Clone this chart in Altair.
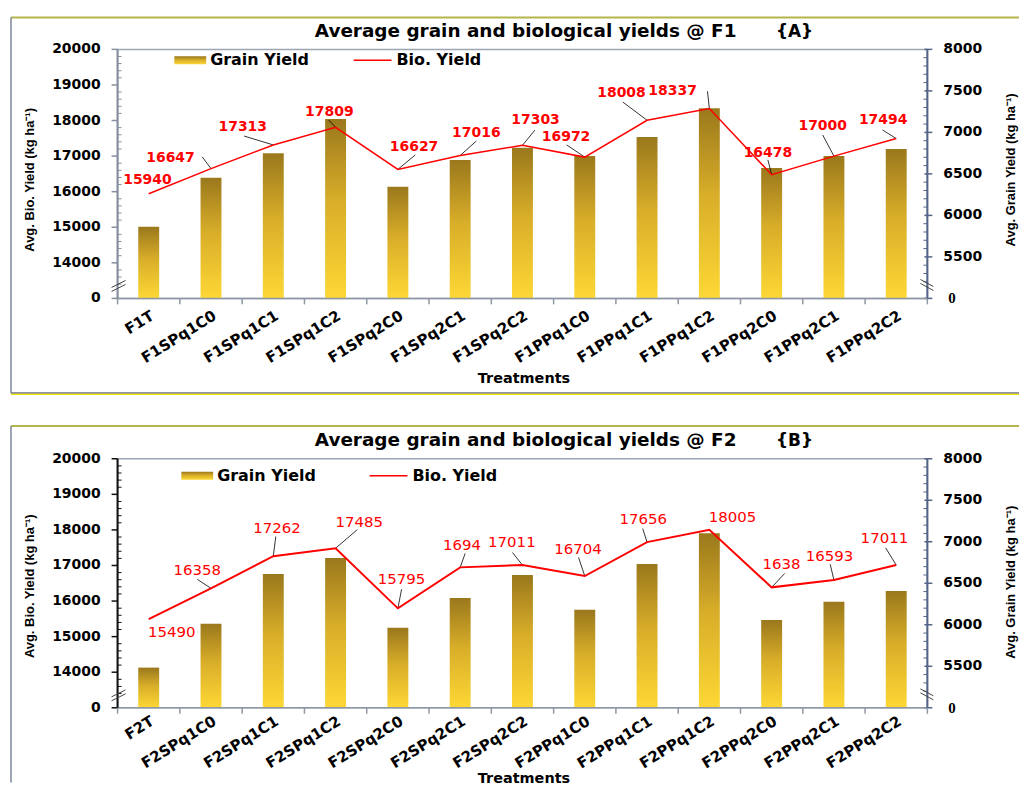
import altair as alt
import pandas as pd

# ---------------- data ----------------
treat_A = ["F1T", "F1SPq1C0", "F1SPq1C1", "F1SPq1C2", "F1SPq2C0", "F1SPq2C1", "F1SPq2C2",
           "F1PPq1C0", "F1PPq1C1", "F1PPq1C2", "F1PPq2C0", "F1PPq2C1", "F1PPq2C2"]
bio_A = [15940, 16647, 17313, 17809, 16627, 17016, 17303, 16972, 18008, 18337, 16478, 17000, 17494]
grain_A = [5864, 6452, 6748, 7160, 6344, 6668, 6816, 6716, 6944, 7292, 6572, 6716, 6800]
label_A = ["15940", "16647", "17313", "17809", "16627", "17016", "17303", "16972", "18008",
           "18337", "16478", "17000", "17494"]

treat_B = ["F2T", "F2SPq1C0", "F2SPq1C1", "F2SPq1C2", "F2SPq2C0", "F2SPq2C1", "F2SPq2C2",
           "F2PPq1C0", "F2PPq1C1", "F2PPq1C2", "F2PPq2C0", "F2PPq2C1", "F2PPq2C2"]
bio_B = [15490, 16358, 17262, 17485, 15795, 16947, 17011, 16704, 17656, 18005, 16385, 16593, 17011]
grain_B = [5484, 6012, 6612, 6804, 5964, 6324, 6600, 6180, 6732, 7104, 6056, 6276, 6408]
label_B = ["15490", "16358", "17262", "17485", "15795", "1694", "17011", "16704", "17656",
           "18005", "1638", "16593", "17011"]

# label placement (category units, kg units) relative to each point
lab_dx_A = [-0.02, -0.65, -0.49, -0.10, 0.26, 0.26, 0.21, -0.30, -0.41, -0.59, -0.06, -0.18, -0.21]
lab_dy_A = [392, 311, 504, 428, 630, 633, 717, 566, 773, 496, 619, 854, 512]
lead_dx_A = [0, -0.14, -0.47, -0.11, 0.28, 0.26, 0.20, -0.29, -0.39, -0.03, -0.06, -0.18, -0.22]
lead_dy_A = [0, 330, 252, 204, 406, 409, 428, 342, 512, 487, 414, 594, 241]

lab_dx_B = [0.37, -0.22, 0.06, 0.38, 0.06, 0.03, -0.17, -0.11, -0.06, 0.37, 0.16, -0.07, -0.19]
lab_dy_B = [-350, 504, 804, 748, 818, 636, 661, 756, 644, 347, 655, 683, 756]
lead_dx_B = [0, -0.22, 0.04, 0.35, 0.06, 0.08, -0.16, -0.10, -0.07, 0, 0.21, -0.06, -0.17]
lead_dy_B = [0, 252, 552, 524, 538, 392, 353, 524, 381, 0, 392, 440, 484]

left_ticks = [13000, 14000, 15000, 16000, 17000, 18000, 19000, 20000]
left_tick_labels = ["0", "14000", "15000", "16000", "17000", "18000", "19000", "20000"]
right_ticks = [5500, 6000, 6500, 7000, 7500, 8000]
right_tick_labels = ["5500", "6000", "6500", "7000", "7500", "8000"]
right_zero = [5000]
left_minor = [13400, 13600, 13800] + [k + m for k in range(14000, 20000, 1000) for m in (200, 400, 600, 800)]
right_minor = [v for v in range(5200, 8000, 100) if v % 500 != 0]

W, H = 813, 250
FONT = "DejaVu Sans"

GOLD = alt.Gradient(
    gradient="linear",
    stops=[alt.GradientStop(offset=0, color="#9a781c"),
           alt.GradientStop(offset=0.45, color="#d8ad29"),
           alt.GradientStop(offset=1, color="#fdd835")],
    x1=0, x2=0, y1=0, y2=1)

one = pd.DataFrame({"k": [0]})


def vtext(txt, x, y, size, weight="bold", font=FONT, color="black", angle=0,
          align="center", baseline="middle"):
    return alt.Chart(one).mark_text(
        text=txt, fontSize=size, fontWeight=weight, font=font, color=color,
        angle=angle, align=align, baseline=baseline
    ).encode(x=alt.value(x), y=alt.value(y))


def vrule(x1, y1, x2, y2, color, width):
    return alt.Chart(one).mark_rule(color=color, strokeWidth=width).encode(
        x=alt.value(x1), y=alt.value(y1), x2=alt.value(x2), y2=alt.value(y2))


def panel(treat, bio, grain, labels, ldx, ldy, edx, edy, tag, style):
    n = len(treat)
    idx = list(range(n))
    df = pd.DataFrame({
        "idx": idx, "treat": treat, "bio": bio, "grain": grain, "label": labels,
        "lx": [i + d for i, d in zip(idx, ldx)],
        "ly": [b + d for b, d in zip(bio, ldy)],
    })
    lead = pd.DataFrame({
        "idx": idx, "bio": bio,
        "ex": [i + d for i, d in zip(idx, edx)],
        "ey": [b + d for b, d in zip(bio, edy)],
        "len": [abs(a) + abs(b) for a, b in zip(edx, edy)],
    })
    lead = lead[lead["len"] > 0]

    xs = alt.Scale(domain=[-0.5, n - 0.5], nice=False, zero=False, padding=0)
    ysl = alt.Scale(domain=[13000, 20000], nice=False, zero=False, padding=0)
    ysr = alt.Scale(domain=[5000, 8000], nice=False, zero=False, padding=0)
    lcol, rcol, xcol = style["lcol"], "#55658a", "#8e97a4"

    # ----- right-scale group: bars + right axis -----
    bars = alt.Chart(df).mark_bar(size=21, fill=GOLD).encode(
        x=alt.X("idx:Q", scale=xs, axis=None),
        y=alt.Y("grain:Q", scale=ysr, axis=None),
        y2=alt.datum(5000),
        tooltip=["treat:N", "grain:Q"],
    )
    rtick_df = pd.DataFrame({"grain": right_ticks, "lab": right_tick_labels})
    rminor = alt.Chart(pd.DataFrame({"grain": right_minor})).mark_rule(
        color=rcol, strokeWidth=1).encode(
        y=alt.Y("grain:Q", scale=ysr, axis=None), x=alt.value(W - 4), x2=alt.value(W))
    rmajor = alt.Chart(pd.DataFrame({"grain": right_ticks + right_zero})).mark_rule(
        color=rcol, strokeWidth=1.5).encode(
        y=alt.Y("grain:Q", scale=ysr, axis=None), x=alt.value(W - 3), x2=alt.value(W + 5))
    rlabels = alt.Chart(rtick_df).mark_text(
        font=FONT, fontSize=14, fontWeight="bold", color="black", align="left", baseline="middle"
    ).encode(y=alt.Y("grain:Q", scale=ysr, axis=None), x=alt.value(W + 16), text="lab:N")
    rzero = alt.Chart(pd.DataFrame({"grain": right_zero, "lab": ["0"]})).mark_text(
        font="Liberation Serif", fontSize=15, fontWeight="bold", color="black", align="left",
        baseline="middle").encode(
        y=alt.Y("grain:Q", scale=ysr, axis=None), x=alt.value(W + 21), text="lab:N")
    child1 = alt.layer(bars, rminor, rmajor, rlabels, rzero)

    # ----- left-scale group: line, labels, left axis, decorations -----
    leaders = alt.Chart(lead).mark_rule(color="black", strokeWidth=0.8).encode(
        x=alt.X("idx:Q", scale=xs, axis=None), x2="ex:Q",
        y=alt.Y("bio:Q", scale=ysl, axis=None), y2="ey:Q")
    line = alt.Chart(df).mark_line(color="#ff0000", strokeWidth=style["lw"]).encode(
        x=alt.X("idx:Q", scale=xs, axis=None),
        y=alt.Y("bio:Q", scale=ysl, axis=None))
    texts = alt.Chart(df).mark_text(
        font=FONT, fontSize=style["lsize"], fontWeight=style["lweight"], color="#ff0000",
        baseline="middle", align="center").encode(
        x=alt.X("lx:Q", scale=xs, axis=None),
        y=alt.Y("ly:Q", scale=ysl, axis=None),
        text="label:N")
    lminor = alt.Chart(pd.DataFrame({"bio": left_minor})).mark_rule(
        color=lcol, strokeWidth=1).encode(
        y=alt.Y("bio:Q", scale=ysl, axis=None), x=alt.value(0), x2=alt.value(4))
    lmajor = alt.Chart(pd.DataFrame({"bio": left_ticks})).mark_rule(
        color=lcol, strokeWidth=1.5).encode(
        y=alt.Y("bio:Q", scale=ysl, axis=None), x=alt.value(-6), x2=alt.value(0))
    llabels = alt.Chart(pd.DataFrame({"bio": left_ticks, "lab": left_tick_labels})).mark_text(
        font=FONT, fontSize=14, fontWeight="bold", color="black", align="right", baseline="middle"
    ).encode(y=alt.Y("bio:Q", scale=ysl, axis=None), x=alt.value(-17), text="lab:N")
    bounds = alt.Chart(pd.DataFrame({"b": [i - 0.5 for i in range(n + 1)]})).mark_rule(
        color=xcol, strokeWidth=1.5).encode(
        x=alt.X("b:Q", scale=xs, axis=None), y=alt.value(H), y2=alt.value(H + 6))
    xlabels = alt.Chart(df).mark_text(
        font=FONT, fontSize=15, fontWeight="bold", color="black", align="right",
        baseline="top", angle=328).encode(
        x=alt.X("idx:Q", scale=xs, axis=None), y=alt.value(H + style["xly"]), text="treat:N")

    lg = style["leg"]
    deco = [
        # axis lines
        vrule(0, H, W, H, xcol, 1.5),
        vrule(0, 0, 0, H, lcol, 2),
        vrule(W, 0, W, H, rcol, 2),
        # title
        vtext(style["title"], 198, style["ty"], 18.5, align="left", baseline="alphabetic"),
        vtext(tag, 661, style["ty"], 17, align="left", baseline="alphabetic"),
        # legend
        alt.Chart(one).mark_rect(fill=GOLD).encode(
            x=alt.value(lg[0]), x2=alt.value(lg[0] + 32), y=alt.value(lg[1] - 4), y2=alt.value(lg[1] + 4)),
        vtext("Grain Yield", lg[0] + 36, lg[1], 16, align="left"),
        vrule(lg[2], lg[1], lg[2] + 38, lg[1], "#ff0000", 1.5),
        vtext("Bio. Yield", lg[2] + 43, lg[1], 16, align="left"),
        # axis titles
        vtext("Avg. Bio. Yield (kg ha\u207b\u00b9)", -88, style["lty"], 13, font="Liberation Sans",
              angle=270),
        vtext("Avg. Grain Yield  (kg ha\u207b\u00b9)", 897, style["rty"], 13, font="Liberation Sans",
              angle=270),
        vtext("Treatments", 408, style["xty"], 14.5),
        # axis break marks
        vrule(-6, 243, 8, 236, "#444444", 1),
        vrule(-6, 239, 8, 232, "#444444", 1),
        vrule(W - 7, 231, W + 6, 238, "#444444", 1),
        vrule(W - 7, 235, W + 6, 242, "#444444", 1),
        # frame of the panel
        vrule(-107, style["top"], 905, style["top"], "#b3b54a", 2),
        vrule(-107, style["top"], -107, style["bottom"], "#7d8799", 1.5),
    ]
    if style["closed"]:
        deco += [vrule(-107, style["bottom"], 905, style["bottom"], "#6b7280", 1.5),
                 vrule(-107, style["bottom"] + 1.4, 905, style["bottom"] + 1.4, "#f2e600", 1.3)]

    child2 = alt.layer(leaders, line, texts, lminor, lmajor, llabels, bounds, xlabels, *deco)
    return alt.layer(child1, child2).resolve_scale(y="independent").properties(width=W, height=H)


styleA = dict(lcol="#868f9d", lw=1.5, lweight="bold", lsize=14, xly=10,
              title="Average grain and biological yields @ F1", ty=-12,
              leg=(57, 11, 237), lty=131, rty=121, xty=331, top=-32, bottom=345, closed=True)
styleB = dict(lcol="#111111", lw=2, lweight="normal", lsize=15, xly=6,
              title="Average grain and biological yields @ F2", ty=-13,
              leg=(64, 17, 253), lty=128, rty=124, xty=322, top=-33, bottom=325, closed=False)

pA = panel(treat_A, bio_A, grain_A, label_A, lab_dx_A, lab_dy_A, lead_dx_A, lead_dy_A, "{A}", styleA)
pB = panel(treat_B, bio_B, grain_B, label_B, lab_dx_B, lab_dy_B, lead_dx_B, lead_dy_B, "{B}", styleB)

chart = alt.vconcat(pA, pB, spacing=28).properties(
    padding={"left": 1, "top": 6, "right": 0, "bottom": 0}
).configure_view(stroke="#9ba5b4", strokeWidth=1.5)

chart.save("out.html", embed_options={"renderer": "svg", "actions": False})
